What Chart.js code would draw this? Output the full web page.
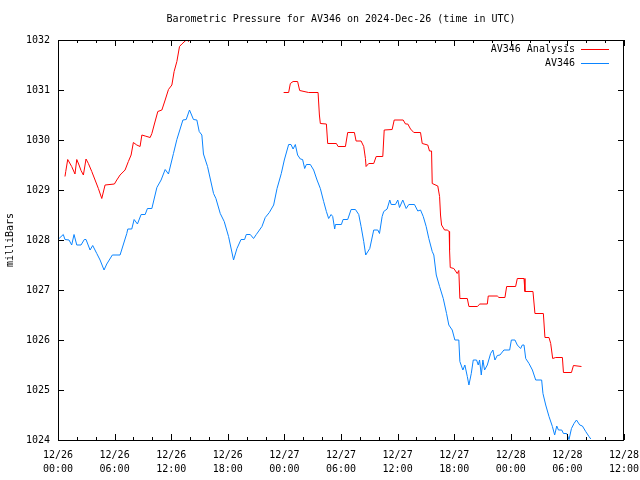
<!DOCTYPE html>
<html>
<head>
<meta charset="utf-8">
<script src="https://cdn.jsdelivr.net/npm/chart.js@4/dist/chart.umd.min.js"></script>
<style>
  body { margin: 0; background: #fff; }
  canvas { display: block; }
</style>
</head>
<body>
<canvas id="pressChart" width="640" height="480"></canvas>
<script>
// hours since 2024-12-26 00:00 UTC, pressure in mb
const obsHours = [
  0.11,0.56,0.74,1.17,1.45,1.70,1.99,2.44,2.79,2.97,
  3.40,3.68,4.11,4.46,4.88,5.17,5.76,6.58,7.29,7.40,
  7.82,8.07,8.42,8.81,9.24,9.48,9.95,10.48,10.93,11.36,
  11.71,12.24,12.60,13.24,13.59,13.94,14.36,14.72,14.97,15.25,
  15.42,15.85,16.49,16.74,17.20,17.62,18.08,18.61,18.97,19.40,
  19.78,19.96,20.38,20.73,21.02,21.62,21.97,22.40,22.86,23.22,
  23.67,23.99,24.45,24.70,24.92,25.16,25.40,25.69,25.93,26.15,
  26.33,26.75,27.10,27.46,27.81,28.16,28.45,28.69,28.95,29.12,
  29.33,29.41,30.04,30.22,30.71,31.07,31.53,31.88,32.13,32.41,
  32.62,33.05,33.47,33.90,34.08,34.36,34.53,34.89,35.17,35.32,
  35.77,36.02,36.20,36.55,36.91,37.19,37.79,38.14,38.43,38.72,
  39.03,39.31,39.67,39.84,40.10,40.45,40.84,41.19,41.43,41.79,
  42.07,42.49,42.60,42.92,43.13,43.39,43.56,43.81,44.02,44.37,
  44.55,44.69,44.87,45.04,45.22,45.51,45.86,46.10,46.32,46.57,
  46.85,47.27,47.88,48.06,48.44,48.69,49.04,49.22,49.40,49.58,
  49.93,50.29,50.64,51.27,51.41,51.70,52.05,52.41,52.65,52.87,
  53.05,53.40,53.58,53.93,54.17,54.43,54.70,54.96,55.31,55.59,
  55.94,56.29,56.48
];
const obsPressure = [
  1028.03,1028.11,1028.01,1028.00,1027.90,1028.11,1027.90,1027.90,1028.01,1028.01,
  1027.80,1027.89,1027.73,1027.60,1027.40,1027.52,1027.70,1027.70,1028.13,1028.22,
  1028.22,1028.41,1028.32,1028.51,1028.51,1028.63,1028.63,1029.05,1029.20,1029.41,
  1029.32,1029.73,1030.01,1030.40,1030.41,1030.60,1030.41,1030.40,1030.17,1030.10,
  1029.72,1029.47,1028.93,1028.83,1028.53,1028.37,1028.07,1027.60,1027.83,1028.01,
  1028.01,1028.11,1028.11,1028.03,1028.11,1028.27,1028.45,1028.55,1028.70,1029.03,
  1029.33,1029.60,1029.91,1029.91,1029.82,1029.91,1029.70,1029.62,1029.61,1029.43,
  1029.51,1029.51,1029.40,1029.20,1029.03,1028.77,1028.57,1028.43,1028.51,1028.47,
  1028.22,1028.31,1028.31,1028.41,1028.41,1028.61,1028.61,1028.51,1028.27,1027.97,
  1027.70,1027.83,1028.20,1028.20,1028.13,1028.47,1028.57,1028.62,1028.80,1028.71,
  1028.71,1028.80,1028.65,1028.80,1028.63,1028.71,1028.71,1028.58,1028.60,1028.47,
  1028.27,1028.03,1027.77,1027.70,1027.30,1027.07,1026.83,1026.53,1026.30,1026.20,
  1026.00,1026.00,1025.57,1025.40,1025.50,1025.27,1025.10,1025.33,1025.60,1025.60,
  1025.50,1025.60,1025.30,1025.60,1025.40,1025.50,1025.73,1025.80,1025.60,1025.69,
  1025.70,1025.80,1025.80,1026.00,1026.00,1025.90,1025.83,1025.90,1025.90,1025.63,
  1025.53,1025.40,1025.20,1025.20,1024.93,1024.70,1024.47,1024.27,1024.10,1024.28,
  1024.20,1024.20,1024.13,1024.13,1024.01,1024.23,1024.33,1024.40,1024.30,1024.28,
  1024.17,1024.07,1024.02
];

// analysis series, null marks the gap between the two runs
const anaHours = [
  0.74,0.82,1.03,1.45,1.80,1.99,2.23,2.44,2.69,2.97,
  3.22,3.58,3.93,4.28,4.64,4.99,5.98,6.23,6.58,7.11,
  7.46,7.75,7.99,8.35,8.70,8.89,9.24,9.77,9.95,10.19,
  10.58,11.01,11.36,11.71,12.07,12.31,12.60,12.88,13.13,13.48,
  13.66,13.83,13.94,
  19.00,
  23.92,24.45,24.63,24.92,25.40,25.62,26.57,27.57,27.71,27.81,
  28.45,28.59,29.51,29.69,30.47,30.71,31.42,31.60,32.13,32.41,
  32.59,32.66,32.94,33.47,33.73,34.43,34.58,35.42,35.64,36.59,
  36.84,37.08,37.37,37.72,38.43,38.61,39.20,39.38,39.60,39.67,
  40.26,40.45,40.55,40.66,40.98,41.26,41.47,41.51,41.58,41.96,
  42.32,42.49,42.60,43.39,43.56,44.45,44.72,45.51,45.61,46.57,
  46.74,47.38,47.56,48.51,48.69,49.40,49.50,50.35,50.56,51.45,
  51.62,52.05,52.23,52.44,52.76,53.47,53.58,54.43,54.64,55.49
];
const anaPressure = [
  1029.27,1029.37,1029.61,1029.47,1029.32,1029.61,1029.50,1029.39,1029.30,1029.62,
  1029.53,1029.37,1029.20,1029.03,1028.83,1029.10,1029.12,1029.20,1029.30,1029.40,
  1029.57,1029.70,1029.95,1029.90,1029.87,1030.10,1030.08,1030.05,1030.13,1030.30,
  1030.57,1030.60,1030.80,1031.01,1031.10,1031.37,1031.57,1031.87,1031.92,1031.98,
  1032.01,1031.97,1032.01,
  null,
  1030.95,1030.95,1031.13,1031.17,1031.17,1030.99,1030.95,1030.95,1030.50,1030.33,
  1030.32,1029.93,1029.93,1029.87,1029.87,1030.15,1030.15,1029.98,1029.98,1029.87,
  1029.63,1029.47,1029.53,1029.53,1029.67,1029.67,1030.20,1030.21,1030.40,1030.40,
  1030.32,1030.32,1030.22,1030.15,1030.15,1029.93,1029.90,1029.78,1029.78,1029.13,
  1029.08,1028.87,1028.50,1028.30,1028.20,1028.20,1028.17,1027.80,1027.45,1027.43,
  1027.33,1027.39,1026.83,1026.83,1026.67,1026.67,1026.72,1026.72,1026.88,1026.88,
  1026.85,1026.85,1027.07,1027.07,1027.23,1027.23,1026.97,1026.97,1026.53,1026.53,
  1026.05,1026.05,1025.93,1025.63,1025.65,1025.65,1025.35,1025.35,1025.49,1025.47
];

const xMin = 0, xMax = 60, xStep = 6, xMinorStep = 2;
const yMin = 1024, yMax = 1032, yStep = 1;

const monoFont = '"DejaVu Sans Mono", "Liberation Mono", monospace';

function toPoints(hours, values) {
  return hours.map((h, i) => ({ x: h, y: values[i] }));
}

function tickLabel(h) {
  const day = 26 + Math.floor(h / 24);
  const hh = h % 24;
  return ['12/' + day, (hh < 10 ? '0' : '') + hh + ':00'];
}

// gnuplot style frame: box with inward ticks, plus the legend in the top right
const framePlugin = {
  id: 'frame',
  afterDraw(chart) {
    const { ctx, chartArea: a, scales } = chart;
    const x = scales.x, y = scales.y;
    ctx.save();
    ctx.strokeStyle = '#000';
    ctx.lineWidth = 1;
    ctx.beginPath();
    for (let h = xMin; h <= xMax; h += xMinorStep) {
      const px = Math.round(x.getPixelForValue(h)) + 0.5;
      const len = h % xStep === 0 ? 6 : 3;
      ctx.moveTo(px, a.bottom); ctx.lineTo(px, a.bottom - len);
      ctx.moveTo(px, a.top); ctx.lineTo(px, a.top + len);
    }
    for (let v = yMin; v <= yMax; v += yStep) {
      const py = Math.round(y.getPixelForValue(v)) + 0.5;
      ctx.moveTo(a.left, py); ctx.lineTo(a.left + 6, py);
      ctx.moveTo(a.right, py); ctx.lineTo(a.right - 6, py);
    }
    ctx.stroke();
    ctx.strokeRect(Math.round(a.left) + 0.5, Math.round(a.top) + 0.5,
      Math.round(a.right - a.left) - 1, Math.round(a.bottom - a.top));

    // legend
    ctx.font = '10px ' + monoFont;
    ctx.textAlign = 'right';
    ctx.textBaseline = 'middle';
    chart.data.datasets.forEach((ds, i) => {
      const ly = Math.round(a.top + 9 + i * 14) + 0.5;
      ctx.fillStyle = '#000';
      ctx.fillText(ds.label, a.right - 49, ly);
      ctx.strokeStyle = ds.borderColor;
      ctx.beginPath();
      ctx.moveTo(a.right - 43, ly);
      ctx.lineTo(a.right - 15, ly);
      ctx.stroke();
    });
    ctx.restore();
  }
};

new Chart(document.getElementById('pressChart'), {
  type: 'line',
  data: {
    datasets: [
      {
        label: 'AV346 Analysis',
        data: toPoints(anaHours, anaPressure),
        borderColor: '#ff0000',
        borderWidth: 1,
        pointRadius: 0,
        tension: 0,
        spanGaps: false
      },
      {
        label: 'AV346',
        data: toPoints(obsHours, obsPressure),
        borderColor: '#0a84ff',
        borderWidth: 1,
        pointRadius: 0,
        tension: 0
      }
    ]
  },
  options: {
    responsive: false,
    animation: false,
    devicePixelRatio: 1,
    layout: { padding: { left: 0, right: 16, top: 0, bottom: 0 } },
    plugins: {
      legend: { display: false },
      tooltip: { enabled: false },
      title: {
        display: true,
        text: 'Barometric Pressure for AV346 on 2024-Dec-26 (time in UTC)',
        color: '#000',
        fullSize: false,
        font: { family: monoFont, size: 10, weight: 'normal', lineHeight: 1.2 },
        padding: { top: 13, bottom: 15 }
      }
    },
    scales: {
      x: {
        type: 'linear',
        min: xMin,
        max: xMax,
        grid: { display: false, drawTicks: false, tickLength: 0 },
        border: { display: false },
        afterBuildTicks(scale) {
          const t = [];
          for (let h = xMin; h <= xMax; h += xStep) t.push({ value: h });
          scale.ticks = t;
        },
        afterFit(scale) {
          scale.height = 40;
          scale.paddingLeft = 0;
          scale.paddingRight = 0;
        },
        ticks: {
          color: '#000',
          padding: 8,
          maxRotation: 0,
          autoSkip: false,
          font: { family: monoFont, size: 10, lineHeight: 1.4 },
          callback: (v) => tickLabel(v)
        }
      },
      y: {
        min: yMin,
        max: yMax,
        grid: { display: false, drawTicks: false, tickLength: 0 },
        border: { display: false },
        afterFit(scale) {
          scale.width = 58;
          scale.paddingTop = 0;
          scale.paddingBottom = 0;
        },
        title: {
          display: true,
          text: 'milliBars',
          color: '#000',
          padding: 4,
          font: { family: monoFont, size: 10 }
        },
        ticks: {
          stepSize: yStep,
          color: '#000',
          padding: 8,
          font: { family: monoFont, size: 10 },
          callback: (v) => String(v)
        }
      }
    }
  },
  plugins: [framePlugin]
});
</script>
</body>
</html>
